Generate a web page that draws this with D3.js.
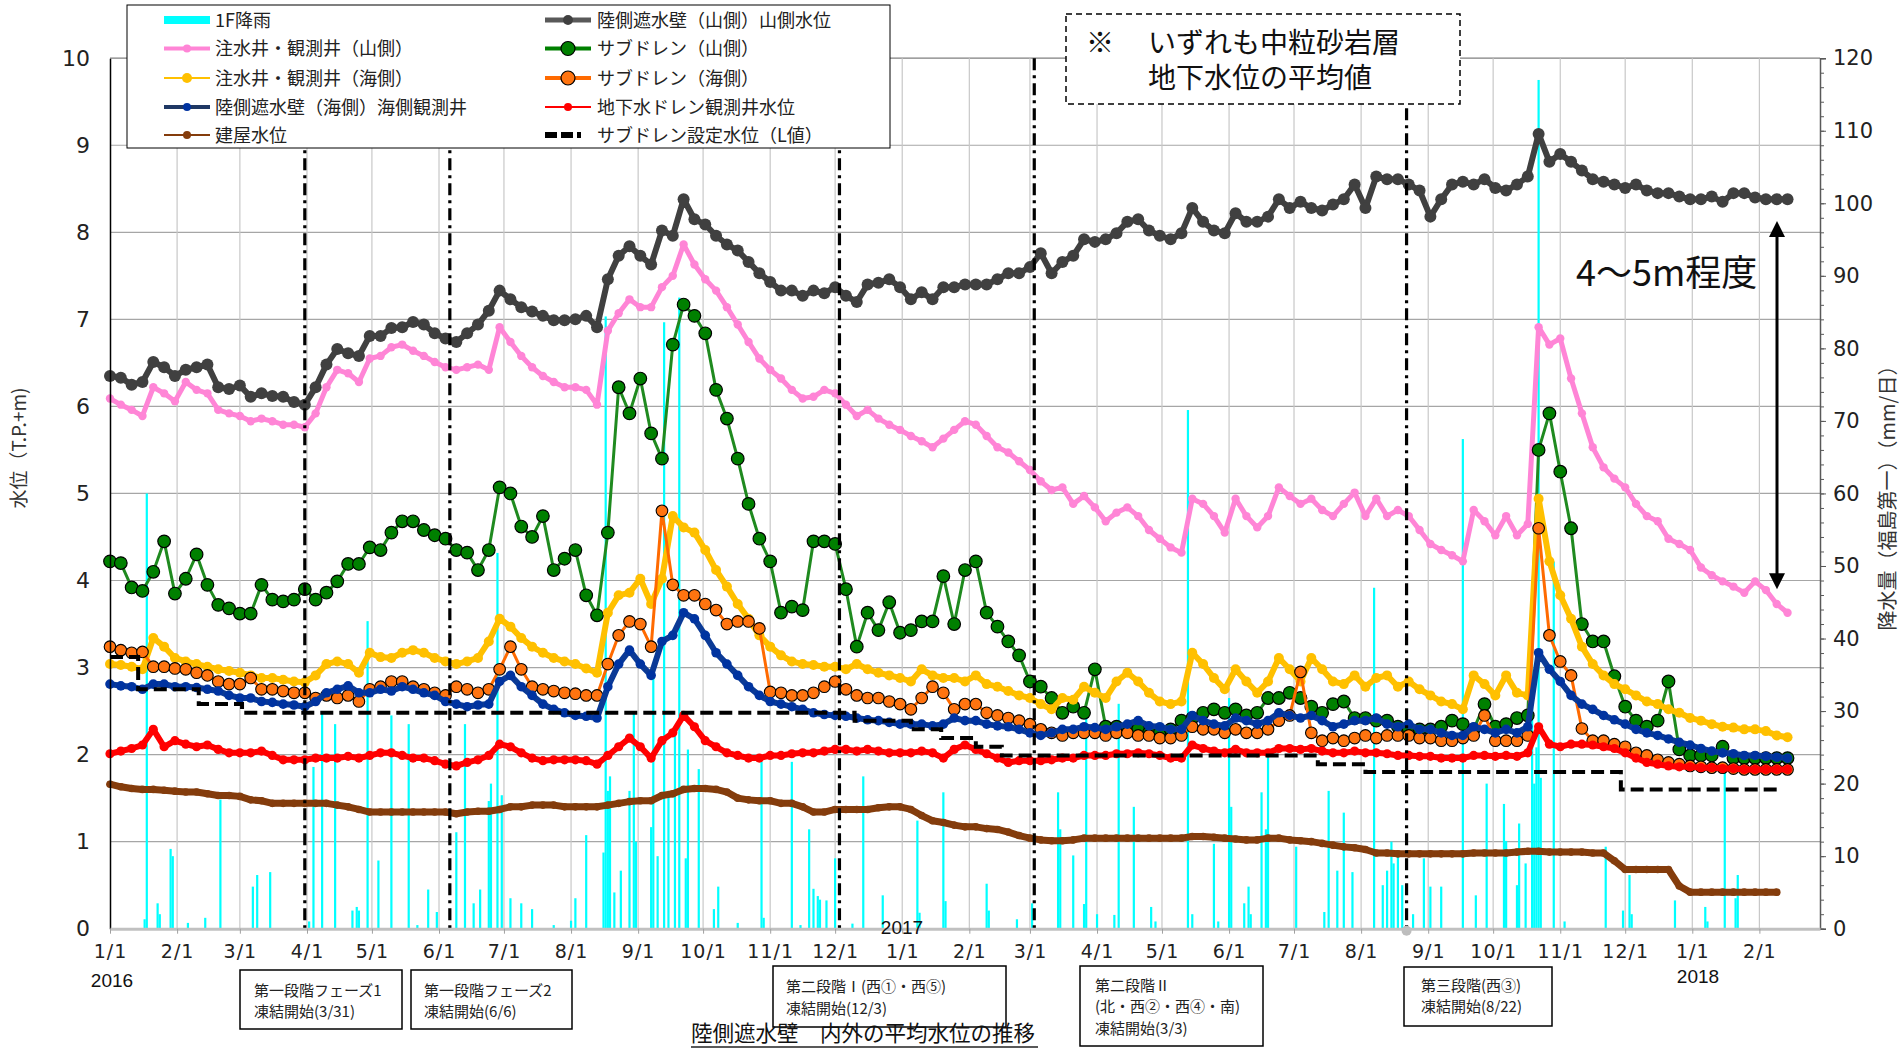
<!DOCTYPE html>
<html><head><meta charset="utf-8">
<script src="https://cdn.jsdelivr.net/npm/d3@7"></script>
<style>body{margin:0;background:#fff;} svg{display:block;}</style>
</head><body>
<svg id="c" width="1901" height="1050"></svg>
<script>
// ---------------- DATA ----------------
const startDate = "2016-01-01";   // first sample
const stepDays = 5;               // samples every 5 days

// 陸側遮水壁（山側）山側水位
const wallMountain = [
 6.35,6.33,6.25,6.28,6.51,6.45,6.35, 6.42,6.45,6.48,6.22,6.20, 6.24,6.11,6.15,6.12,6.11,6.05,6.02,
 6.22,6.48,6.66,6.61,6.58,6.81, 6.81,6.90,6.91,6.97,6.94,6.84, 6.78,6.74,6.84,6.94,7.10,7.33,
 7.23,7.14,7.09,7.04,6.99,6.99, 7.00,7.04,6.91,7.46,7.73,7.84, 7.73,7.63,8.02,7.96,8.38,8.15,
 8.09,7.96,7.86,7.79,7.66,7.53, 7.43,7.33,7.33,7.27,7.33,7.30, 7.37,7.27,7.20,7.40,7.42,7.46,7.37,
 7.23,7.31,7.23,7.37,7.37,7.40, 7.40,7.40,7.46,7.53,7.53, 7.60,7.76,7.53,7.66,7.73,7.92,7.89,
 7.92,7.99,8.12,8.15,8.02,7.96, 7.92,7.99,8.28,8.12,8.02,7.99, 8.22,8.12,8.12,8.18,8.38,8.28,
 8.35,8.28,8.25,8.32,8.38,8.55, 8.28,8.64,8.61,8.61,8.55,8.48, 8.18,8.38,8.55,8.58,8.55,8.61,
 8.51,8.48,8.55,8.64,9.13,8.81, 8.90,8.81,8.71,8.61,8.58,8.55, 8.51,8.55,8.48,8.45,8.45,8.41,8.38,
 8.38,8.41,8.35,8.45,8.45,8.40, 8.38,8.38,8.38];
// 注水井・観測井（山側）
const injectMountain = [
 6.09,6.02,5.96,5.89,6.22,6.15,6.06, 6.28,6.19,6.15,5.96,5.92, 5.89,5.83,5.86,5.83,5.79,5.79,5.76,
 5.92,6.22,6.42,6.38,6.28,6.55, 6.58,6.68,6.71,6.64,6.58,6.51, 6.45,6.42,6.45,6.48,6.42,6.91,
 6.74,6.58,6.45,6.35,6.28,6.22, 6.22,6.19,6.02,6.87,7.07,7.23, 7.14,7.14,7.37,7.50,7.86,7.63,
 7.46,7.33,7.14,6.94,6.74,6.55, 6.42,6.32,6.19,6.09,6.11,6.19, 6.15,6.02,5.89,5.96,5.86,5.79,5.73,
 5.66,5.60,5.53,5.63,5.73,5.83, 5.79,5.66,5.53,5.47,5.37, 5.27,5.14,5.04,5.07,4.88,4.97,4.84,
 4.68,4.78,4.84,4.74,4.58,4.48, 4.38,4.32,4.94,4.88,4.74,4.55, 4.94,4.74,4.61,4.74,5.07,4.97,
 4.88,4.94,4.81,4.74,4.88,5.01, 4.74,4.94,4.74,4.81,4.74,4.58, 4.42,4.35,4.29,4.22,4.81,4.68,
 4.52,4.74,4.52,4.65,6.91,6.71, 6.78,6.32,5.92,5.53,5.30,5.17, 5.07,4.88,4.74,4.68,4.48,4.42,4.35,
 4.15,4.06,3.99,3.93,3.86,3.99, 3.89,3.73,3.63];
// 注水井・観測井（海側）
const injectSea = [
 3.04,3.03,3.01,2.98,3.34,3.24,3.11, 3.07,3.04,3.01,2.98,2.96, 2.94,2.91,2.88,2.88,2.86,2.84,2.83,
 2.91,3.04,3.07,3.04,2.94,3.17, 3.12,3.11,3.17,3.20,3.17,3.11, 3.07,3.04,3.07,3.11,3.30,3.56,
 3.47,3.34,3.24,3.17,3.11,3.07, 3.04,2.99,2.94,3.63,3.83,3.86, 4.02,3.73,4.02,4.74,4.61,4.55,
 4.35,4.12,3.93,3.73,3.56,3.37, 3.24,3.14,3.07,3.04,3.03,3.01, 3.01,2.98,3.04,2.98,2.94,2.91,2.88,
 2.84,2.98,2.91,2.88,2.88,2.84, 2.91,2.81,2.78,2.73,2.68, 2.65,2.58,2.52,2.65,2.63,2.78,2.71,
 2.65,2.84,2.94,2.84,2.71,2.61, 2.58,2.61,3.17,3.04,2.88,2.75, 2.98,2.84,2.71,2.84,3.11,2.98,
 2.84,3.11,2.98,2.84,2.81,2.91, 2.78,2.88,2.91,2.78,2.84,2.75, 2.68,2.61,2.58,2.52,2.91,2.81,
 2.68,2.91,2.71,2.68,4.94,4.22, 3.83,3.56,3.24,3.04,2.91,2.81, 2.75,2.68,2.61,2.58,2.52,2.48,2.42,
 2.39,2.35,2.32,2.31,2.29,2.29, 2.27,2.22,2.20];
// 陸側遮水壁（海側）海側観測井
const wallSea = [
 2.81,2.79,2.78,2.75,2.81,2.81,2.78, 2.78,2.77,2.75,2.73,2.68, 2.65,2.65,2.61,2.60,2.58,2.57,2.55,
 2.61,2.71,2.75,2.79,2.71,2.71, 2.75,2.73,2.78,2.75,2.71,2.68, 2.61,2.58,2.55,2.57,2.58,2.84,
 2.91,2.78,2.68,2.58,2.52,2.48, 2.45,2.44,2.42,2.78,3.04,3.20, 3.04,2.91,3.30,3.37,3.63,3.56,
 3.37,3.17,3.04,2.91,2.78,2.68, 2.61,2.58,2.55,2.52,2.48,2.46, 2.45,2.44,2.42,2.40,2.39,2.37,2.35,
 2.35,2.35,2.33,2.35,2.42,2.39, 2.39,2.35,2.33,2.32,2.29, 2.25,2.22,2.25,2.29,2.29,2.32,2.31,
 2.29,2.32,2.35,2.39,2.33,2.32, 2.29,2.29,2.45,2.39,2.35,2.33, 2.42,2.39,2.35,2.39,2.48,2.45,
 2.42,2.45,2.39,2.32,2.35,2.39, 2.39,2.42,2.35,2.32,2.35,2.29, 2.29,2.25,2.22,2.22,2.32,2.29,
 2.25,2.29,2.25,2.32,3.17,2.98, 2.84,2.68,2.58,2.52,2.45,2.40, 2.35,2.29,2.25,2.22,2.18,2.14,2.11,
 2.07,2.04,2.02,2.01,1.99,1.99, 1.98,1.97,1.96];
// 地下水ドレン観測井水位
const drainWell = [
 2.01,2.04,2.07,2.11,2.29,2.09,2.16, 2.12,2.09,2.11,2.06,2.02, 2.02,2.02,2.04,1.99,1.94,1.94,1.94,
 1.96,1.96,1.96,1.98,1.96,1.99, 2.02,2.02,1.99,1.96,1.96,1.93, 1.89,1.87,1.91,1.94,1.99,2.12,
 2.09,2.02,1.96,1.93,1.94,1.94, 1.94,1.93,1.89,1.99,2.09,2.19, 2.09,1.96,2.16,2.25,2.45,2.32,
 2.16,2.09,2.02,1.99,1.96,1.96, 1.99,1.99,2.01,2.02,2.02,2.04, 2.06,2.06,2.04,2.06,2.04,2.02,2.02,
 2.02,2.04,2.02,1.96,2.06,2.11, 2.06,2.01,1.96,1.91,1.93, 1.93,1.93,1.94,1.96,1.96,1.99,1.99,
 1.99,2.01,2.01,2.02,2.01,1.99, 1.96,1.96,2.11,2.07,2.04,2.02, 2.06,2.02,2.02,2.02,2.07,2.07,
 2.06,2.07,2.04,2.02,2.02,2.04, 2.02,2.02,2.01,1.99,1.99,1.98, 1.98,1.96,1.96,1.96,1.99,1.99,
 1.98,1.99,1.98,2.02,2.32,2.12, 2.09,2.12,2.12,2.11,2.09,2.07, 2.02,1.96,1.91,1.89,1.87,1.86,1.86,
 1.85,1.85,1.84,1.84,1.83,1.83, 1.83,1.83,1.83];
// 建屋水位
const building = [
 1.66,1.63,1.61,1.60,1.60,1.59,1.58, 1.57,1.57,1.55,1.53,1.53, 1.52,1.48,1.47,1.44,1.44,1.44,1.44,
 1.44,1.44,1.42,1.40,1.37,1.34, 1.34,1.34,1.34,1.34,1.34,1.34, 1.34,1.32,1.34,1.35,1.35,1.37,
 1.40,1.40,1.42,1.42,1.42,1.40, 1.40,1.40,1.40,1.42,1.44,1.46, 1.47,1.47,1.53,1.55,1.60,1.61,
 1.61,1.60,1.57,1.50,1.48,1.47, 1.47,1.44,1.44,1.40,1.34,1.34, 1.37,1.37,1.37,1.37,1.39,1.40,1.40,
 1.37,1.30,1.24,1.22,1.19,1.17, 1.17,1.15,1.14,1.11,1.07, 1.04,1.02,1.01,1.01,1.02,1.04,1.04,
 1.04,1.04,1.04,1.04,1.04,1.04, 1.04,1.04,1.06,1.06,1.05,1.04, 1.03,1.02,1.02,1.04,1.04,1.02,
 1.01,1.00,0.98,0.96,0.94,0.93, 0.91,0.87,0.87,0.86,0.86,0.86, 0.86,0.86,0.86,0.86,0.87,0.87,
 0.87,0.87,0.88,0.89,0.89,0.88, 0.88,0.88,0.88,0.87,0.87,0.78, 0.68,0.68,0.68,0.68,0.68,0.49,0.42,
 0.42,0.42,0.42,0.42,0.42,0.42, 0.42,0.42,null];
// サブドレン（山側）
const subdrainMountain = [
 4.22,4.20,3.92,3.88,4.10,4.45,3.85, 4.02,4.30,3.95,3.72,3.68, 3.62,3.62,3.95,3.78,3.76,3.78,3.90,
 3.78,3.86,3.99,4.19,4.19,4.38, 4.35,4.55,4.68,4.68,4.58,4.52, 4.48,4.35,4.32,4.12,4.35,5.07,
 5.00,4.62,4.50,4.74,4.12,4.25, 4.35,3.83,3.60,4.55,6.22,5.92, 6.32,5.69,5.40,6.71,7.17,7.04,
 6.84,6.19,5.86,5.40,4.88,4.48, 4.22,3.63,3.70,3.66,4.45,4.45, 4.42,3.90,3.24,3.63,3.43,3.75,3.40,
 3.43,3.53,3.53,4.05,3.50,4.12, 4.22,3.63,3.47,3.30,3.14, 2.84,2.78,2.65,2.48,2.55,2.48,2.98,
 2.32,2.32,2.29,2.29,2.25,2.25, 2.29,2.39,2.42,2.48,2.52,2.48, 2.52,2.45,2.48,2.65,2.65,2.71,
 2.65,2.55,2.48,2.58,2.61,2.42, 2.42,2.39,2.39,2.32,2.29,2.29, 2.29,2.32,2.39,2.35,2.29,2.58,
 2.32,2.35,2.42,2.45,5.50,5.92, 5.25,4.60,3.50,3.30,3.30,2.90, 2.55,2.39,2.32,2.39,2.84,2.06,1.99,
 1.99,1.99,2.09,1.96,1.96,1.96, 1.96,1.96,1.96];
// サブドレン（海側）
const subdrainSea = [
 3.24,3.20,3.17,3.18,3.01,3.01,2.99, 2.98,2.94,2.91,2.84,2.81, 2.81,2.88,2.75,2.75,2.73,2.71,2.71,
 2.65,2.68,2.65,2.68,2.61,2.75, 2.78,2.84,2.84,2.78,2.75,2.71, 2.68,2.78,2.75,2.71,2.75,2.98,
 3.24,2.98,2.78,2.75,2.73,2.71, 2.70,2.68,2.68,3.04,3.37,3.53, 3.50,3.24,4.80,3.95,3.83,3.83,
 3.73,3.66,3.50,3.53,3.53,3.45, 2.72,2.71,2.68,2.68,2.71,2.78, 2.84,2.75,2.68,2.65,2.65,2.61,2.58,
 2.52,2.65,2.78,2.71,2.52,2.58, 2.58,2.48,2.45,2.42,2.39, 2.35,2.29,2.25,2.22,2.25,2.25,2.25,
 2.22,2.25,2.25,2.22,2.22,2.19, 2.19,2.22,2.32,2.29,2.29,2.25, 2.29,2.25,2.25,2.29,2.39,2.45,
 2.95,2.25,2.16,2.19,2.16,2.19, 2.22,2.19,2.22,2.22,2.22,2.19, 2.19,2.16,2.16,2.19,2.22,2.45,
 2.16,2.16,2.16,2.22,4.60,3.37, 3.07,2.91,2.30,2.16,2.16,2.12, 2.09,2.02,1.99,1.94,1.91,1.89,1.87,
 1.86,1.85,1.85,1.84,1.83,1.83, 1.83,1.83,1.83];

// サブドレン設定水位（L値） : step changes
const lDates  = ["2016-01-01","2016-01-14","2016-02-11","2016-03-02","2016-12-10","2017-01-05","2017-01-19","2017-02-04","2017-02-16","2017-07-12","2017-08-03","2017-11-29","2018-02-10"];
const lValues = [3.12,2.75,2.58,2.48,2.39,2.29,2.19,2.09,1.99,1.89,1.80,1.60,1.60];

// 1F降雨 (mm/day)
const rainDates = ["2016-01-17","2016-01-18","2016-01-23","2016-01-24","2016-01-29","2016-01-30","2016-02-06","2016-02-14","2016-02-21","2016-03-07","2016-03-09","2016-03-15",
 "2016-04-02","2016-04-04","2016-04-08","2016-04-14","2016-04-22","2016-04-24","2016-04-25","2016-04-29","2016-05-04","2016-05-10","2016-05-18","2016-05-22","2016-05-27","2016-05-31",
 "2016-06-09","2016-06-13","2016-06-17","2016-06-20","2016-06-24","2016-06-25","2016-06-28","2016-06-30","2016-07-04","2016-07-09","2016-07-14","2016-07-24",
 "2016-08-01","2016-08-03","2016-08-08","2016-08-16","2016-08-17","2016-08-18","2016-08-19","2016-08-21","2016-08-24","2016-08-28","2016-08-30","2016-08-31",
 "2016-09-07","2016-09-08","2016-09-10","2016-09-13","2016-09-15","2016-09-18","2016-09-20","2016-09-23","2016-09-24","2016-09-29",
 "2016-10-06","2016-10-08","2016-10-17","2016-10-28","2016-10-29","2016-11-11","2016-11-15","2016-11-19","2016-11-21","2016-11-23","2016-11-24","2016-11-27",
 "2016-12-01","2016-12-09","2016-12-14","2016-12-23","2017-01-08","2017-01-09","2017-01-20","2017-01-21","2017-02-09","2017-02-10","2017-02-23",
 "2017-03-02","2017-03-14","2017-03-15","2017-03-21","2017-03-26","2017-03-27","2017-04-01","2017-04-09","2017-04-11","2017-04-18","2017-04-26","2017-04-28",
 "2017-05-13","2017-05-15","2017-05-25","2017-05-27","2017-06-01","2017-06-02","2017-06-08","2017-06-10","2017-06-11","2017-06-16","2017-06-18","2017-06-19",
 "2017-07-02","2017-07-15","2017-07-17","2017-07-21","2017-07-24","2017-07-28","2017-08-07","2017-08-11","2017-08-13","2017-08-15","2017-08-16","2017-08-18","2017-08-20",
 "2017-08-25","2017-08-30","2017-09-02","2017-09-07","2017-09-17","2017-09-23","2017-09-28","2017-10-06","2017-10-07","2017-10-12","2017-10-13","2017-10-16",
 "2017-10-19","2017-10-20","2017-10-21","2017-10-22","2017-10-23","2017-10-29","2017-11-03","2017-11-22","2017-11-30","2017-12-03","2017-12-04","2017-12-24",
 "2018-01-07","2018-01-08","2018-01-16","2018-01-21","2018-01-22"];
const rainMM = [1.3,60,3.5,2,11,10,0.8,1.5,17.8,5.8,7.4,7.8,
 1,22.3,29.8,28.2,2.5,3,2.5,42.4,9.4,29.4,28.2,0.5,5.4,2.3,
 13.3,28.2,3.5,5.4,17.6,20,51.8,18.4,4.2,3.5,2.7,0.5,
 1.1,4.2,12.9,10.5,84.4,19,21,5,8,19,30,12,
 14,35,10,83.6,19,27,87,9.7,24.7,22,
 2.7,5.8,0.8,23,1.5,23,0.5,13.7,5.5,4.5,4,3.9,
 9.7,0.7,21,4.6,14.9,2.2,18.8,3.8,6.2,2.5,1.3,
 3.5,18.8,13.7,10.1,3.4,30.2,2,1.9,31,16.8,3,1,
 71.5,2,11.7,1,31.8,16.8,3.5,5.8,2,18.8,13.7,24,
 11.3,2.3,19,8,16,7.8,47,6,8,12,9,10,6,
 2,9.7,5.8,5.8,67.5,4.6,20,17.2,12.1,6,14.5,9,
 43.5,20,25,117,20.8,50.6,1,11.3,2.5,7.4,2,3.9,
 3,1,21.5,4.2,7.4];

const freezeDates = ["2016-03-31","2016-06-06","2016-12-03","2017-03-03","2017-08-22"];
const leftTicks = [0,1,2,3,4,5,6,7,8,9,10];
const rightTicks = [0,10,20,30,40,50,60,70,80,90,100,110,120];
const yearLabels = ["2016","2017","2018"];

// ---------------- CHART ----------------
const parse = d3.timeParse("%Y-%m-%d");
const t0 = parse(startDate);
const X0 = 110, X1 = 1820, Y0 = 928.7, Y1 = 58.2;
const x = d3.scaleTime().domain([parse("2016-01-01"), parse("2018-03-01")]).range([X0, X1]);
const yL = d3.scaleLinear().domain([0, 10]).range([Y0, Y1]);
const yR = d3.scaleLinear().domain([0, 120]).range([Y0, Y1]);
const svg = d3.select("#c");
const JP = "'Noto Sans CJK JP','Noto Sans',sans-serif";
const NUM = "'DejaVu Sans',sans-serif";

// grid
const grid = svg.append("g");
grid.selectAll(".h").data(leftTicks.filter(v => v > 0)).join("line")
  .attr("x1", X0).attr("x2", X1).attr("y1", d => yL(d)).attr("y2", d => yL(d))
  .attr("stroke", d => d === 10 ? "#7f7f7f" : "#a6a6a6").attr("stroke-width", 1.2);
const monthTicks = d3.timeMonth.range(parse("2016-01-01"), parse("2018-02-02"));
grid.selectAll(".v").data(monthTicks.slice(1)).join("line")
  .attr("x1", d => x(d)).attr("x2", d => x(d)).attr("y1", Y1).attr("y2", Y0)
  .attr("stroke", "#c8c8c8").attr("stroke-width", 1.2);

// rain bars
const rain = rainDates.map((d, i) => ({date: parse(d), mm: rainMM[i]}));
svg.append("g").selectAll("rect").data(rain).join("rect")
  .attr("x", d => x(d.date) - 1.1).attr("width", 2.2)
  .attr("y", d => yR(d.mm)).attr("height", d => Y0 - yR(d.mm))
  .attr("fill", "#00FFFF");

function drawSeries(vals, st) {
  const data = vals.map((v, i) => ({date: d3.timeDay.offset(t0, i * stepDays), v}));
  const g = svg.append("g");
  g.append("path").datum(data)
    .attr("d", d3.line().defined(d => d.v != null).x(d => x(d.date)).y(d => yL(d.v)))
    .attr("fill", "none").attr("stroke", st.line).attr("stroke-width", st.lw)
    .attr("stroke-linejoin", "round").attr("stroke-linecap", "round");
  g.selectAll("circle").data(data.filter(d => d.v != null)).join("circle")
    .attr("cx", d => x(d.date)).attr("cy", d => yL(d.v)).attr("r", st.r)
    .attr("fill", st.fill).attr("stroke", st.stroke || "none").attr("stroke-width", st.sw || 0);
}
const S = {
  gray:   {line: "#404040", lw: 6, r: 6, fill: "#404040"},
  pink:   {line: "#FF85D6", lw: 5, r: 4.2, fill: "#FF85D6"},
  green:  {line: "#1F8A1F", lw: 3, r: 6.3, fill: "#008000", stroke: "#000", sw: 1.2},
  yellow: {line: "#FFC000", lw: 6, r: 5, fill: "#FFC000"},
  orange: {line: "#FF6A00", lw: 3, r: 5.8, fill: "#FF7410", stroke: "#000", sw: 1.1},
  blue:   {line: "#0B3A96", lw: 6, r: 4.8, fill: "#0033A0"},
  red:    {line: "#FF0000", lw: 6, r: 4.6, fill: "#FF0000"},
  brown:  {line: "#843C0C", lw: 7, r: 3.8, fill: "#843C0C"}
};
drawSeries(wallMountain, S.gray);
drawSeries(injectMountain, S.pink);
drawSeries(subdrainMountain, S.green);
drawSeries(injectSea, S.yellow);
drawSeries(subdrainSea, S.orange);
drawSeries(wallSea, S.blue);
drawSeries(drainWell, S.red);
drawSeries(building, S.brown);

// L value
const lData = lDates.map((d, i) => ({date: parse(d), v: lValues[i]}));
svg.append("path").datum(lData)
  .attr("d", d3.line().curve(d3.curveStepAfter).x(d => x(d.date)).y(d => yL(d.v)))
  .attr("fill", "none").attr("stroke", "#000").attr("stroke-width", 4).attr("stroke-dasharray", "13,6");

// freeze lines
svg.append("g").selectAll("line").data(freezeDates.map(parse)).join("line")
  .attr("x1", d => x(d)).attr("x2", d => x(d)).attr("y1", Y1).attr("y2", Y0)
  .attr("stroke", "#000").attr("stroke-width", 3.2).attr("stroke-dasharray", "12,5,3,5");
svg.append("circle").attr("cx", x(parse(freezeDates[4]))).attr("cy", Y0 + 2).attr("r", 5).attr("fill", "#bdbdbd");

// axes
const ax = svg.append("g").attr("transform", `translate(${X0},0)`)
  .call(d3.axisLeft(yL).tickValues(leftTicks).tickSize(0).tickPadding(20).tickFormat(d3.format("d")));
ax.select(".domain").attr("stroke", "#000").attr("stroke-width", 1.5);
ax.selectAll("text").attr("font-family", NUM).attr("font-size", 22).attr("fill", "#222");

const axR = svg.append("g").attr("transform", `translate(${X1},0)`)
  .call(d3.axisRight(yR).tickValues(rightTicks).tickSize(6).tickPadding(7).tickFormat(d3.format("d")));
axR.select(".domain").attr("stroke", "#595959").attr("stroke-width", 1.5);
axR.selectAll("line").attr("stroke", "#595959");
axR.selectAll("text").attr("font-family", NUM).attr("font-size", 21).attr("fill", "#222");
const axRm = svg.append("g").attr("transform", `translate(${X1},0)`)
  .call(d3.axisRight(yR).tickValues(d3.range(0, 121, 2)).tickSize(4).tickFormat(""));
axRm.select(".domain").remove();
axRm.selectAll("line").attr("stroke", "#595959");

const axB = svg.append("g").attr("transform", `translate(0,${Y0})`)
  .call(d3.axisBottom(x).tickValues(monthTicks).tickSize(5).tickSizeOuter(0).tickPadding(11)
    .tickFormat(d3.timeFormat("%-m/%-d")));
axB.select(".domain").attr("stroke", "#c0c0c0").attr("stroke-width", 3);
axB.selectAll("line").attr("stroke", "#a0a0a0");
axB.selectAll("text").attr("font-family", NUM).attr("font-size", 19).attr("letter-spacing", 1).attr("fill", "#222");

// year labels
const yl = [[112, 987], [902, 934], [1698, 983]];
svg.append("g").selectAll("text").data(yearLabels).join("text")
  .attr("x", (d, i) => yl[i][0]).attr("y", (d, i) => yl[i][1]).attr("text-anchor", "middle")
  .attr("font-family", "'Liberation Sans',Arial,sans-serif").attr("font-size", 19).attr("fill", "#111")
  .text(d => d);

// axis titles
svg.append("text").attr("transform", "translate(26,448) rotate(-90)").attr("text-anchor", "middle")
  .attr("font-family", JP).attr("font-size", 19).attr("fill", "#333").text("水位（T.P.+m)");
svg.append("text").attr("transform", "translate(1895,493) rotate(-90)").attr("text-anchor", "middle")
  .attr("font-family", JP).attr("font-size", 20).attr("fill", "#333").text("降水量（福島第一）（mm/日）");

// legend
const lg = svg.append("g");
lg.append("rect").attr("x", 127).attr("y", 5).attr("width", 763).attr("height", 143)
  .attr("fill", "#fff").attr("stroke", "#000").attr("stroke-width", 1);
const rowsY = [20, 48.5, 78, 107, 135];
const legendItems = [
  {col: 0, row: 0, label: "1F降雨", type: "bar"},
  {col: 1, row: 0, label: "陸側遮水壁（山側）山側水位", line: "#595959", lw: 5, r: 5, fill: "#404040"},
  {col: 0, row: 1, label: "注水井・観測井（山側）", line: "#FF85D6", lw: 4, r: 4, fill: "#FF85D6"},
  {col: 1, row: 1, label: "サブドレン（山側）", line: "#008000", lw: 4, r: 7, fill: "#008000", stroke: "#000"},
  {col: 0, row: 2, label: "注水井・観測井（海側）", line: "#FFC000", lw: 2, r: 5, fill: "#FFC000"},
  {col: 1, row: 2, label: "サブドレン（海側）", line: "#FF6A00", lw: 4, r: 7, fill: "#FF7410", stroke: "#000"},
  {col: 0, row: 3, label: "陸側遮水壁（海側）海側観測井", line: "#1F3864", lw: 4, r: 4, fill: "#0033A0"},
  {col: 1, row: 3, label: "地下水ドレン観測井水位", line: "#FF0000", lw: 2, r: 4, fill: "#FF0000"},
  {col: 0, row: 4, label: "建屋水位", line: "#843C0C", lw: 2, r: 4, fill: "#843C0C"},
  {col: 1, row: 4, label: "サブドレン設定水位（L値）", type: "dash"}
];
legendItems.forEach(it => {
  const sx = it.col === 0 ? 164 : 545, tx = it.col === 0 ? 215 : 597, cy = rowsY[it.row];
  if (it.type === "bar") {
    lg.append("rect").attr("x", sx).attr("y", cy - 4).attr("width", 46).attr("height", 8).attr("fill", "#00FFFF");
  } else if (it.type === "dash") {
    lg.append("line").attr("x1", sx).attr("x2", sx + 46).attr("y1", cy).attr("y2", cy)
      .attr("stroke", "#000").attr("stroke-width", 6).attr("stroke-dasharray", "12,4,12,4,4,40");
  } else {
    lg.append("line").attr("x1", sx).attr("x2", sx + 46).attr("y1", cy).attr("y2", cy)
      .attr("stroke", it.line).attr("stroke-width", it.lw);
    lg.append("circle").attr("cx", sx + 23).attr("cy", cy).attr("r", it.r).attr("fill", it.fill)
      .attr("stroke", it.stroke || "none").attr("stroke-width", 1.2);
  }
  lg.append("text").attr("x", tx).attr("y", cy + 6.5).attr("font-family", JP).attr("font-size", 18)
    .attr("fill", "#222").text(it.label);
});

// note box
svg.append("rect").attr("x", 1066).attr("y", 14).attr("width", 394).attr("height", 90)
  .attr("fill", "#fff").attr("stroke", "#000").attr("stroke-width", 1.5).attr("stroke-dasharray", "6,4");
const nt = svg.append("g").attr("font-family", JP).attr("font-size", 28).attr("fill", "#111");
const n1 = nt.append("text").attr("x", 1086).attr("y", 53);
n1.append("tspan").text("※");
n1.append("tspan").attr("x", 1148).text("いずれも中粒砂岩層");
nt.append("text").attr("x", 1148).attr("y", 88).text("地下水位の平均値");

// 4～5m arrow
svg.append("text").attr("x", 1576).attr("y", 286).attr("font-family", JP).attr("font-size", 36)
  .attr("fill", "#111").text("4～5m程度");
const axX = 1777, aTop = yL(8.13), aBot = yL(3.9);
svg.append("line").attr("x1", axX).attr("x2", axX).attr("y1", aTop + 10).attr("y2", aBot - 10)
  .attr("stroke", "#000").attr("stroke-width", 3);
svg.append("path").attr("d", `M${axX},${aTop} L${axX - 8},${aTop + 16} L${axX + 8},${aTop + 16} Z`).attr("fill", "#000");
svg.append("path").attr("d", `M${axX},${aBot} L${axX - 8},${aBot - 16} L${axX + 8},${aBot - 16} Z`).attr("fill", "#000");

// annotation boxes
const boxes = [
  {x: 240, y: 970, w: 162, h: 59, tx: 254, lines: ["第一段階フェーズ1", "凍結開始(3/31)"], by: [996, 1017]},
  {x: 411, y: 970, w: 161, h: 59, tx: 424, lines: ["第一段階フェーズ2", "凍結開始(6/6)"], by: [996, 1017]},
  {x: 773, y: 966, w: 233, h: 61, tx: 786, lines: ["第二段階Ⅰ(西①・西⑤)", "凍結開始(12/3)"], by: [992, 1014]},
  {x: 1080, y: 966, w: 183, h: 80, tx: 1095, lines: ["第二段階Ⅱ", "(北・西②・西④・南)", "凍結開始(3/3)"], by: [991, 1012, 1034]},
  {x: 1404, y: 967, w: 148, h: 59, tx: 1421, lines: ["第三段階(西③)", "凍結開始(8/22)"], by: [991, 1012]}
];
const bg = svg.append("g");
boxes.forEach(b => {
  bg.append("rect").attr("x", b.x).attr("y", b.y).attr("width", b.w).attr("height", b.h)
    .attr("fill", "#fff").attr("stroke", "#000").attr("stroke-width", 1.5);
  b.lines.forEach((t, i) => bg.append("text").attr("x", b.tx).attr("y", b.by[i])
    .attr("font-family", JP).attr("font-size", 15).attr("fill", "#222").text(t));
});

// title
svg.append("text").attr("x", 691).attr("y", 1041).attr("font-family", JP).attr("font-size", 21.5)
  .attr("fill", "#111").text("陸側遮水壁　内外の平均水位の推移");
svg.append("line").attr("x1", 691).attr("x2", 1038).attr("y1", 1047).attr("y2", 1047)
  .attr("stroke", "#222").attr("stroke-width", 1.5);
</script>
</body></html>
